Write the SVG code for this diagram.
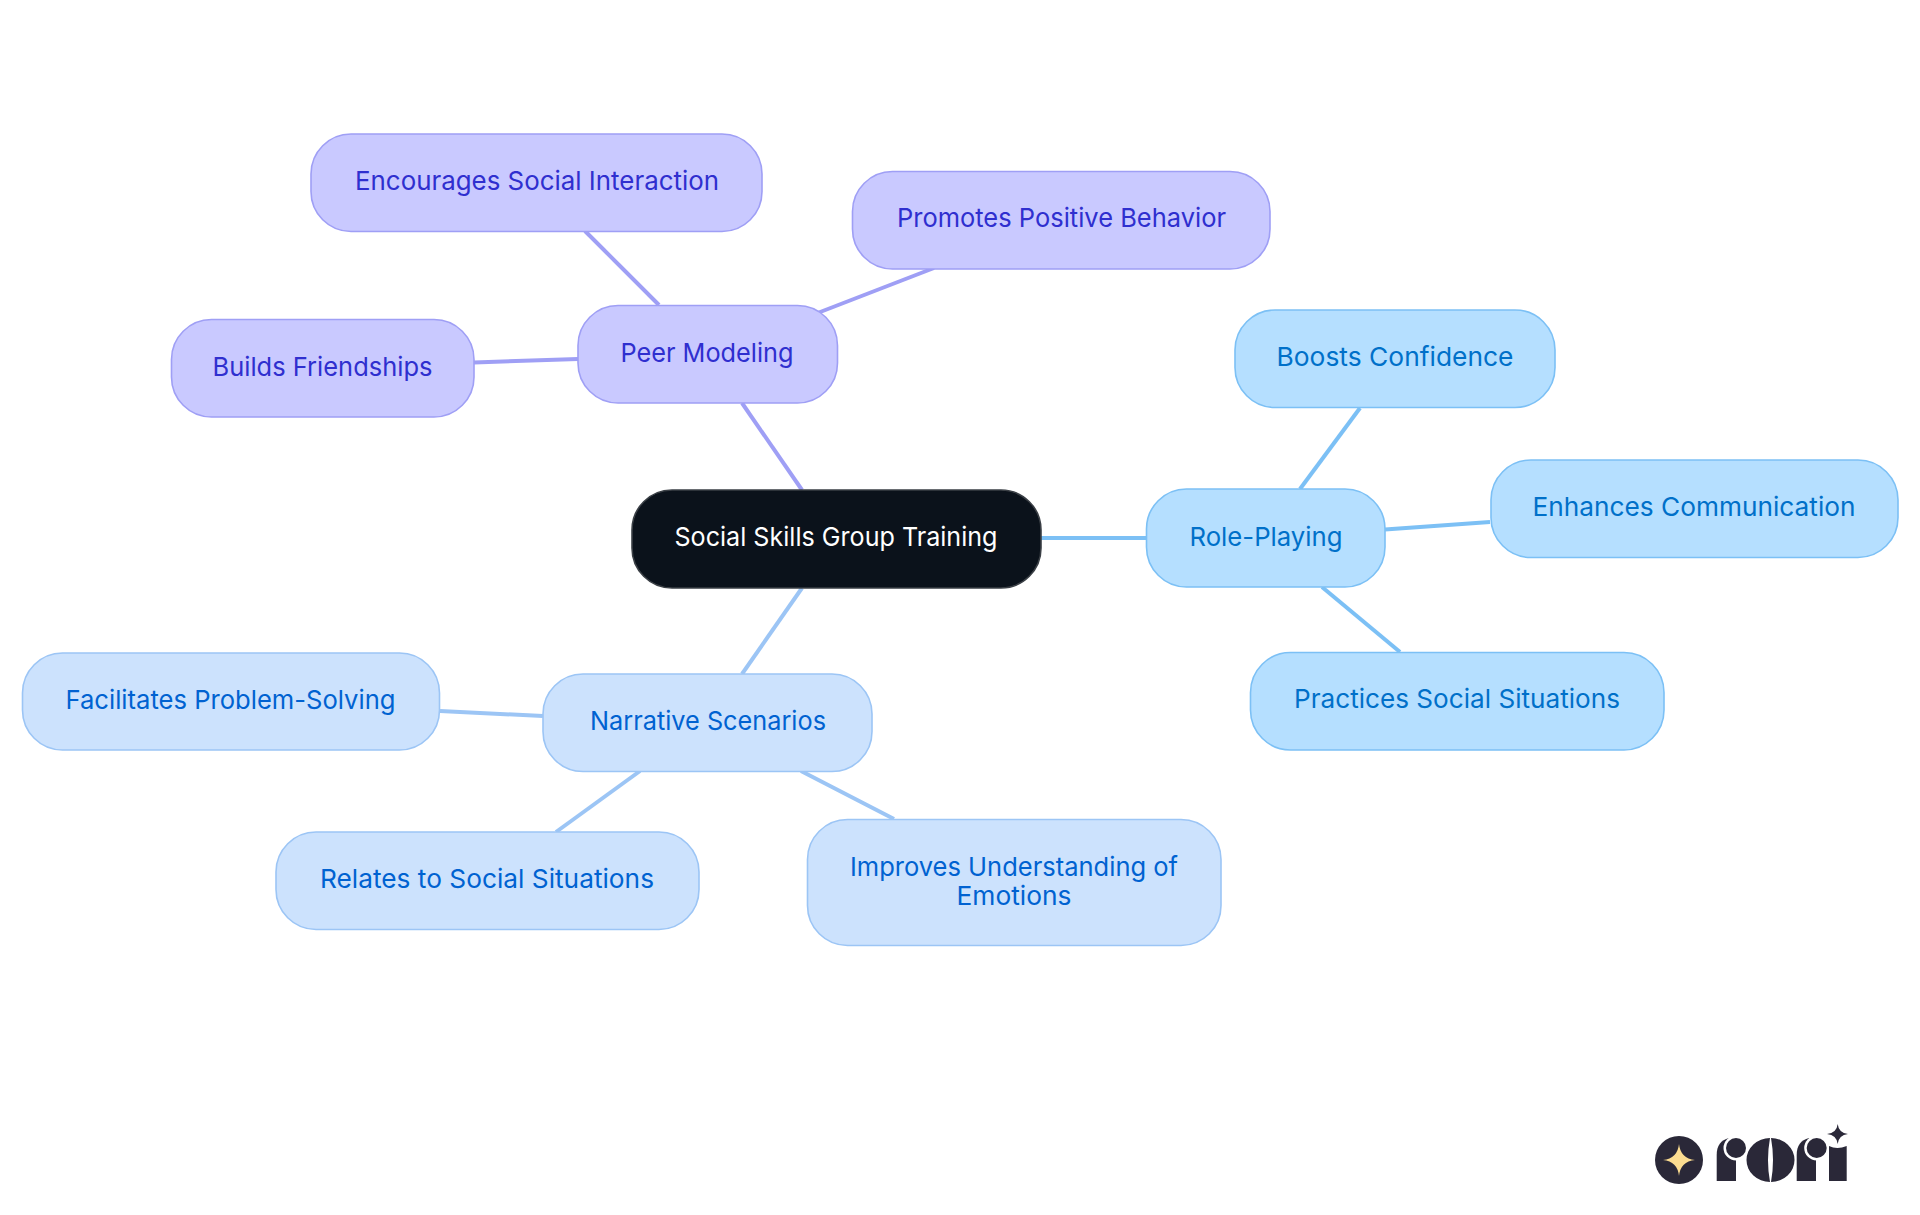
<svg xmlns="http://www.w3.org/2000/svg" width="1920" height="1215" viewBox="0 0 1920 1215">
<style>
text{font-family:"Inter","Liberation Sans",sans-serif;font-size:26px;text-anchor:middle}
.n{stroke-width:1.6}
.p rect{fill:#c9c9ff;stroke:#9f9ff5}.p text{fill:#2f2fcf}
.b rect{fill:#b5dfff;stroke:#7cc0f5}.b text{fill:#0070c9}
.l rect{fill:#cce2fd;stroke:#9cc5f5}.l text{fill:#0062d1}
#connectors line{stroke-width:4;fill:none}
.cp{stroke:#9f9ff5}.cb{stroke:#7cc0f5}.cl{stroke:#9cc5f5}
.d{fill:#2a2838}
</style>
<rect width="1920" height="1215" fill="#fff"/>
<g id="connectors">
<line class="cp" x1="742" y1="403" x2="802" y2="490"/>
<line class="cp" x1="659" y1="305" x2="585" y2="231"/>
<line class="cp" x1="815" y1="314" x2="934" y2="268"/>
<line class="cp" x1="578" y1="359" x2="474" y2="362.500"/>
<line class="cb" x1="1041" y1="538" x2="1146" y2="538"/>
<line class="cb" x1="1300" y1="489" x2="1360" y2="408"/>
<line class="cb" x1="1385" y1="529.500" x2="1490" y2="522"/>
<line class="cb" x1="1322" y1="587" x2="1400" y2="652"/>
<line class="cl" x1="802" y1="588" x2="742" y2="674"/>
<line class="cl" x1="543" y1="716" x2="440" y2="711"/>
<line class="cl" x1="640" y1="771" x2="556" y2="832"/>
<line class="cl" x1="801" y1="771" x2="894" y2="819"/>
</g>
<g id="center"><rect x="632" y="490" width="409" height="98" rx="40" fill="#0b121b" stroke="#3a3f45" stroke-width="1.600"/><text x="836" y="546" fill="#fff" textLength="323" lengthAdjust="spacingAndGlyphs">Social Skills Group Training</text></g>
<g id="peer" class="p"><rect class="n" x="578" y="305.500" width="259.500" height="97.500" rx="40"/><text x="707" y="362" textLength="173" lengthAdjust="spacingAndGlyphs">Peer Modeling</text></g>
<g id="encourages" class="p"><rect class="n" x="311" y="134" width="451" height="97.500" rx="40"/><text x="537" y="190" textLength="364" lengthAdjust="spacingAndGlyphs">Encourages Social Interaction</text></g>
<g id="promotes" class="p"><rect class="n" x="852.500" y="171.500" width="417.500" height="97.500" rx="40"/><text x="1061.500" y="227" textLength="329" lengthAdjust="spacingAndGlyphs">Promotes Positive Behavior</text></g>
<g id="builds" class="p"><rect class="n" x="171.500" y="319.500" width="302.500" height="97.500" rx="40"/><text x="322.500" y="375.500" textLength="220" lengthAdjust="spacingAndGlyphs">Builds Friendships</text></g>
<g id="role" class="b"><rect class="n" x="1146.500" y="489" width="238.500" height="98" rx="40"/><text x="1266" y="545.500" textLength="153" lengthAdjust="spacingAndGlyphs">Role-Playing</text></g>
<g id="boosts" class="b"><rect class="n" x="1235" y="310" width="320" height="97.500" rx="40"/><text x="1395" y="366" textLength="237" lengthAdjust="spacingAndGlyphs">Boosts Confidence</text></g>
<g id="enhances" class="b"><rect class="n" x="1491" y="460" width="407" height="97.500" rx="40"/><text x="1694" y="516" textLength="323" lengthAdjust="spacingAndGlyphs">Enhances Communication</text></g>
<g id="practices" class="b"><rect class="n" x="1250.500" y="652.500" width="413.500" height="97.500" rx="40"/><text x="1457" y="708" textLength="326" lengthAdjust="spacingAndGlyphs">Practices Social Situations</text></g>
<g id="narrative" class="l"><rect class="n" x="543" y="674" width="329" height="97.500" rx="40"/><text x="708" y="730" textLength="236" lengthAdjust="spacingAndGlyphs">Narrative Scenarios</text></g>
<g id="facilitates" class="l"><rect class="n" x="22.500" y="653" width="417" height="97" rx="40"/><text x="230.500" y="709" textLength="330" lengthAdjust="spacingAndGlyphs">Facilitates Problem-Solving</text></g>
<g id="relates" class="l"><rect class="n" x="276" y="832" width="423" height="97.500" rx="40"/><text x="487" y="888" textLength="334" lengthAdjust="spacingAndGlyphs">Relates to Social Situations</text></g>
<g id="improves" class="l"><rect class="n" x="807.500" y="819.500" width="413.500" height="126" rx="40"/><text x="1014" y="876" textLength="328" lengthAdjust="spacingAndGlyphs">Improves Understanding of</text><text x="1014" y="904.500" textLength="115" lengthAdjust="spacingAndGlyphs">Emotions</text></g>
<g id="logo">
<circle class="d" cx="1679" cy="1160" r="24"/>
<path fill="#fbdc90" d="M1679 1144Q1680.500 1158.500 1695 1160Q1680.500 1161.500 1679 1176Q1677.500 1161.500 1663 1160Q1677.500 1158.500 1679 1144Z"/>
<path class="d" d="M1716.700 1181V1155Q1716.700 1141 1729 1138L1736 1138V1181Z"/>
<circle cx="1736" cy="1148" r="12.500" fill="#fff"/><rect x="1737" y="1136" width="9" height="46" fill="#fff"/><circle class="d" cx="1736" cy="1148" r="10"/>
<path class="d" d="M1770 1138A23.500 22 0 0 0 1770 1182Q1766 1160 1770 1138Z"/>
<path class="d" d="M1771 1138A23.500 22 0 0 1 1771 1182Q1775 1160 1771 1138Z"/>
<path class="d" d="M1796.700 1181V1155Q1796.700 1141 1809 1138L1816 1138V1181Z"/>
<circle cx="1816.700" cy="1148" r="12.500" fill="#fff"/><rect x="1817" y="1136" width="11" height="46" fill="#fff"/><circle class="d" cx="1816.700" cy="1148" r="10"/>
<path class="d" d="M1829 1181V1146Q1837 1150 1846.700 1146V1181Z"/>
<path class="d" d="M1837.700 1124Q1838.700 1133 1848 1134Q1838.700 1135 1837.700 1144Q1836.700 1135 1827 1134Q1836.700 1133 1837.700 1124Z"/>
</g>
</svg>
